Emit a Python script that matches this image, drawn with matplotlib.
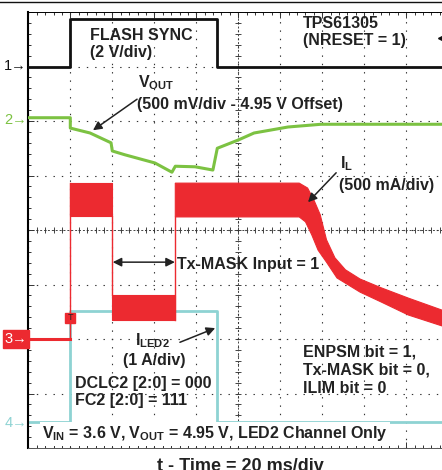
import numpy as np
import matplotlib
matplotlib.use("Agg")
import matplotlib.pyplot as plt
from matplotlib.lines import Line2D
from matplotlib.ticker import MultipleLocator

plt.rcParams['font.family'] = ['Liberation Sans', 'DejaVu Sans']
plt.rcParams['mathtext.fontset'] = 'custom'
plt.rcParams['mathtext.rm'] = 'Liberation Sans'
plt.rcParams['mathtext.bf'] = 'Liberation Sans:bold'

# time in ms (20 ms/div), levels in screen divisions
sync_t = [0, 20, 20, 90, 90, 197]
sync_v = [7.0, 7.0, 7.88, 7.88, 7.0, 7.0]

vout_t = [0, 20, 20, 29.4, 39.4, 40, 46.0, 60.3, 68.4, 70, 79.4, 87.9, 90, 99.9, 107.5, 123.7, 139.4, 197]
vout_v = [6.06, 6.06, 5.87, 5.78, 5.60, 5.45, 5.38, 5.23, 5.06, 5.17, 5.16, 5.10, 5.50, 5.65, 5.78, 5.89, 5.94, 5.94]

il_base_t = [0, 20]
il_base_v = [2.0, 2.0]
# burst 1 (before Tx-MASK)
il1_t = [20, 40]
il1_top = [4.86, 4.86]
il1_bot = [4.26, 4.26]
# Tx-MASK active
il2_t = [40, 70]
il2_top = [2.81, 2.81]
il2_bot = [2.35, 2.35]
# burst 2 and decay
il3_top_t = [70, 129, 133, 136, 139, 142, 146, 151, 158, 168, 181, 197]
il3_top = [4.86, 4.86, 4.77, 4.55, 4.28, 3.82, 3.49, 3.27, 3.10, 2.94, 2.75, 2.53]
il3_bot_t = [70, 129, 132, 135, 138, 142, 147, 158, 168, 181, 197]
il3_bot = [4.24, 4.24, 4.15, 3.91, 3.63, 3.41, 3.12, 2.86, 2.68, 2.44, 2.24]

iled_t = [0, 20, 20, 90, 90, 197]
iled_v = [0.47, 0.47, 2.51, 2.51, 0.48, 0.48]

BLACK = '#111111'
GREEN = '#7cc242'
RED = '#ec2a30'
CYAN = '#8ed3d3'

fig = plt.figure(figsize=(4.42, 4.70), dpi=100)
ax = fig.add_axes([28.3 / 442, 22 / 470, 420 / 442, 436 / 470])
ax.set_xlim(0, 200)
ax.set_ylim(0, 8)

# scope graticule
ax.xaxis.set_major_locator(MultipleLocator(20))
ax.yaxis.set_major_locator(MultipleLocator(1))
ax.xaxis.set_minor_locator(MultipleLocator(4))
ax.yaxis.set_minor_locator(MultipleLocator(0.2))
ax.grid(True, which='major', color='#333333', lw=0.8, linestyle=(0, (1.25, 6.25)))
ax.tick_params(which='both', direction='in', top=True, bottom=True, left=True, right=False,
               labelbottom=False, labelleft=False, color='#333333', width=0.7)
ax.tick_params(which='major', length=4)
ax.tick_params(which='minor', length=2.5)
ax.spines['right'].set_visible(False)
ax.spines['left'].set_linewidth(1.5)
ax.spines['top'].set_linewidth(0.7)
ax.spines['bottom'].set_linewidth(0.7)
ax.spines['bottom'].set_color('#555555')

ax.axhline(4, color='#444444', lw=0.7, linestyle=(0, (2, 2)), zorder=1)
ax.axvline(100, color='#444444', lw=0.7, linestyle=(0, (2, 2)), zorder=1)
ticks_x = np.arange(0, 200.1, 4)
ticks_y = np.arange(0, 8.01, 0.2)
ax.plot(ticks_x, np.full_like(ticks_x, 4), ls='none', marker='|', ms=4, mew=0.7, color='#444444', zorder=1)
ax.plot(np.full_like(ticks_y, 100), ticks_y, ls='none', marker='_', ms=4, mew=0.7, color='#444444', zorder=1)

# traces
ax.plot(sync_t, sync_v, color=BLACK, lw=2, zorder=3)
ax.plot(vout_t, vout_v, color=GREEN, lw=2.2, zorder=3)

ax.plot(il_base_t, il_base_v, color=RED, lw=2.2, zorder=3)
ax.plot([il1_t[0], il1_t[0]], [il_base_v[-1], il1_top[0]], color=RED, lw=1, zorder=3)
ax.fill_between(il1_t, il1_bot, il1_top, color=RED, lw=0.8, zorder=3)
ax.plot([il2_t[0], il2_t[0]], [il1_bot[-1], il2_top[0]], color=RED, lw=1, zorder=3)
ax.fill_between(il2_t, il2_bot, il2_top, color=RED, lw=0.8, zorder=3)
ax.plot([il2_t[-1], il2_t[-1]], [il2_bot[-1], il3_bot[0]], color=RED, lw=1, zorder=3)
ax.fill(il3_top_t + il3_bot_t[::-1], il3_top + il3_bot[::-1], color=RED, lw=0.8, zorder=3)

ax.plot(iled_t, iled_v, color=CYAN, lw=2, zorder=2.5)

# trigger markers
ax.plot([20], [2.39], marker='s', ms=7.5, color=RED, zorder=4)
ax.text(20, 2.39, 'T', fontsize=6.5, ha='center', va='center', color='#222222', zorder=5)
ax.plot([196.5], [7.52], marker='<', ms=5, color=BLACK, zorder=4, clip_on=False)

# channel markers
ax.text(-0.6, 7.0, '1→', ha='right', va='center', fontsize=10.5, color=BLACK, clip_on=False)
ax.text(-0.6, 6.02, '2→', ha='right', va='center', fontsize=10.5, color=GREEN, clip_on=False)
ax.text(-0.6, 2.0, '3→', ha='right', va='center', fontsize=10.5, color='white', clip_on=False,
        bbox=dict(boxstyle='square,pad=0.12', fc=RED, ec=RED))
ax.text(-0.6, 0.46, '4→', ha='right', va='center', fontsize=10.5, color=CYAN, clip_on=False)

# labels
fs = 11.5
lab = dict(fontsize=fs, fontweight='bold', color='#222222', va='baseline', zorder=6)
ax.text(29.4, 7.49, 'FLASH SYNC', **lab)
ax.text(29.4, 7.17, '(2 V/div)', **lab)
ax.text(130.8, 7.71, 'TPS61305', **lab)
ax.text(130.8, 7.39, '(NRESET = 1)', **lab)
ax.text(52.2, 6.61, r'V$_\mathbf{OUT}$', **lab)
ax.text(51.8, 6.22, '(500 mV/div - 4.95 V Offset)', **lab)
ax.text(148.4, 5.14, r'I$_\mathbf{L}$', **lab)
ax.text(148.0, 4.73, '(500 mA/div)', **lab)
ax.text(71.0, 3.28, 'Tx-MASK Input = 1', **lab)
ax.text(50.8, 1.89, r'I$_\mathbf{LED2}$', **lab)
ax.text(45.2, 1.52, '(1 A/div)', **lab)
ax.text(22.2, 1.10, 'DCLC2 [2:0] = 000', **lab)
ax.text(22.2, 0.79, 'FC2 [2:0] = 111', **lab)
ax.text(130.8, 1.67, 'ENPSM bit = 1,', **lab)
ax.text(130.8, 1.34, 'Tx-MASK bit = 0,', **lab)
ax.text(130.8, 1.01, 'ILIM bit = 0', **lab)
ax.text(6.6, 0.18, r'V$_\mathbf{IN}$ = 3.6 V, V$_\mathbf{OUT}$ = 4.95 V, LED2 Channel Only', **lab,
        bbox=dict(boxstyle='square,pad=0.15', fc='white', ec='none'))

arr = dict(arrowstyle='-|>', color='#222222', lw=1.1, mutation_scale=13, shrinkA=0, shrinkB=0)
ax.annotate('', xy=(30.8, 5.83), xytext=(51.8, 6.40), arrowprops=arr, zorder=6)
ax.annotate('', xy=(133.2, 4.51), xytext=(146.6, 5.05), arrowprops=arr, zorder=6)
ax.annotate('', xy=(89.0, 2.20), xytext=(72.2, 1.94), arrowprops=arr, zorder=6)
ax.annotate('', xy=(40.2, 3.41), xytext=(69.8, 3.41),
            arrowprops=dict(arrowstyle='<|-|>', color='#222222', lw=1.1, mutation_scale=13,
                            shrinkA=0, shrinkB=0), zorder=6)

fig.text(240 / 442, -1 / 470, 't - Time = 20 ms/div', ha='center', va='baseline',
         fontsize=13, fontweight='bold', color='#222222')
fig.add_artist(Line2D([0, 1], [1 - 2 / 470, 1 - 2 / 470], transform=fig.transFigure,
                      color=BLACK, lw=1))

fig.savefig('out.png', dpi=100)
